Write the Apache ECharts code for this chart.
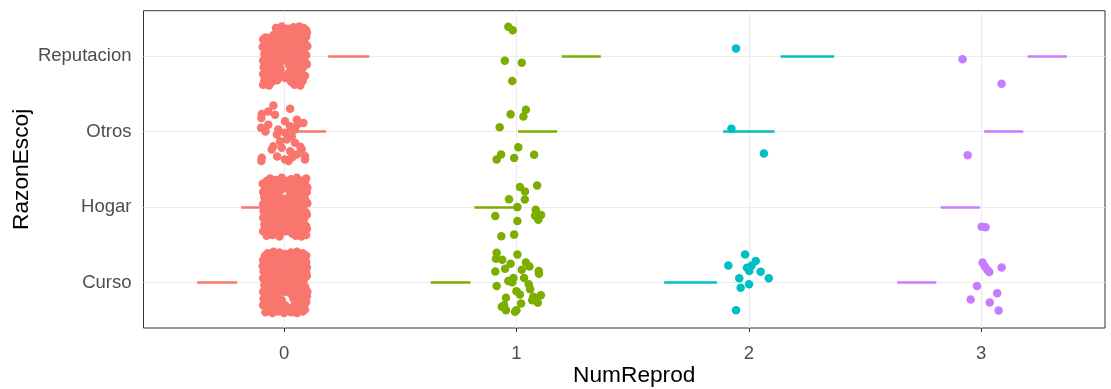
<!DOCTYPE html>
<html>
<head>
<meta charset="utf-8">
<script src="https://cdn.jsdelivr.net/npm/echarts@6/dist/echarts.min.js"></script>
<style>
  html, body { margin: 0; padding: 0; background: #fff; }
  #chart { width: 1111px; height: 389px; }
</style>
</head>
<body>
<div id="chart"></div>
<script>
// categorías del eje Y (1 = Curso ... 4 = Reputacion)
const categories = ['Curso', 'Hogar', 'Otros', 'Reputacion'];
const numReprod = [0, 1, 2, 3];

// puntos con jitter [NumReprod, RazonEscoj]
const pts0 = [
  // Reputacion
  [-0.035,4.37],[-0.01,4.39],[0.015,4.36],[0.04,4.38],[0.065,4.39],[0.085,4.37],
  [-0.022,4.33],[0.002,4.34],[0.028,4.33],[0.052,4.345],[0.075,4.33],[0.095,4.34],
  [-0.045,4.28],[-0.02,4.3],[0.005,4.27],[0.03,4.29],[0.055,4.3],[0.08,4.28],[0.098,4.31],
  [-0.08,4.245],[-0.055,4.25],[-0.03,4.24],[-0.005,4.255],[0.02,4.245],[0.045,4.25],[0.07,4.24],[0.095,4.255],
  [-0.09,4.22],[-0.068,4.19],[-0.04,4.21],[-0.015,4.18],[0.01,4.2],[0.035,4.22],[0.06,4.19],[0.085,4.21],
  [-0.08,4.155],[-0.055,4.165],[-0.03,4.155],[-0.005,4.16],[0.02,4.155],[0.045,4.165],[0.07,4.155],[0.092,4.16],
  [-0.092,4.12],[-0.07,4.1],[-0.045,4.13],[-0.02,4.1],[0.005,4.12],[0.03,4.09],[0.055,4.12],[0.08,4.1],[0.1,4.13],
  [-0.075,4.065],[-0.05,4.07],[-0.025,4.06],[0.0,4.07],[0.03,4.055],[0.058,4.065],[0.085,4.06],
  [-0.085,4.03],[-0.06,4.0],[-0.035,4.04],[-0.01,4.01],[0.02,4.03],[0.045,4.0],[0.07,4.04],[0.095,4.01],
  [-0.075,3.975],[-0.05,3.97],[-0.025,3.98],[0.005,3.97],[0.03,3.975],[0.055,3.965],[0.08,3.975],
  [-0.09,3.94],[-0.065,3.91],[-0.04,3.95],[-0.015,3.92],[0.015,3.94],[0.04,3.91],[0.065,3.95],[0.09,3.92],
  [-0.075,3.885],[-0.05,3.89],[-0.025,3.88],[0.02,3.885],[0.05,3.89],[0.075,3.88],[0.098,3.89],
  [-0.088,3.85],[-0.06,3.82],[-0.035,3.86],[-0.015,3.83],[0.035,3.85],[0.06,3.82],[0.085,3.86],
  [-0.075,3.8],[-0.05,3.795],[-0.025,3.805],[0.025,3.795],[0.05,3.8],[0.075,3.805],
  [-0.09,3.76],[-0.065,3.73],[-0.04,3.77],[-0.01,3.74],[0.015,3.76],[0.04,3.73],[0.065,3.77],[0.09,3.74],
  [-0.075,3.71],[-0.045,3.705],[-0.02,3.715],[0.005,3.71],[0.03,3.705],[0.055,3.71],[0.08,3.72],
  [-0.085,3.67],[-0.055,3.65],[-0.03,3.68],[0.03,3.66],[0.055,3.64],[0.08,3.67],
  [-0.09,3.62],[-0.065,3.61],[0.045,3.62],[0.07,3.61],
  // Otros
  [-0.046,3.346],[0.026,3.303],[-0.096,3.233],[-0.068,3.267],[-0.098,3.18],[-0.039,3.224],
  [0.004,3.136],[0.055,3.158],[0.083,3.114],[-0.099,3.049],[-0.068,3.092],[-0.025,3.026],
  [0.026,3.07],[0.047,3.026],[0.004,2.983],[-0.031,2.961],[0.033,2.938],[-0.017,2.872],
  [0.012,2.895],[-0.046,2.807],[0.047,2.851],[-0.053,2.763],[-0.01,2.785],[0.026,2.741],
  [0.076,2.763],[0.055,2.697],[0.09,2.675],[-0.096,2.654],[-0.098,2.609],[0.004,2.632],
  [0.019,2.609],[0.09,2.632],[0.06,3.1],[-0.08,3.0],[0.07,2.8],[-0.03,2.67],[0.035,2.66],
  // Hogar
  [-0.06,2.38],[-0.035,2.36],[-0.01,2.39],[0.03,2.37],[0.055,2.39],[0.08,2.35],[0.095,2.38],
  [-0.075,2.345],[-0.048,2.35],[-0.022,2.34],[0.01,2.345],[0.042,2.34],[0.068,2.35],[0.09,2.335],
  [-0.092,2.31],[-0.07,2.28],[-0.045,2.32],[-0.02,2.29],[0.01,2.3],[0.035,2.27],[0.06,2.31],[0.085,2.29],[0.1,2.26],
  [-0.08,2.25],[-0.055,2.255],[-0.028,2.25],[0.0,2.26],[0.02,2.25],[0.048,2.255],[0.072,2.245],[0.092,2.25],
  [-0.09,2.2],[-0.065,2.23],[-0.04,2.18],[-0.015,2.22],[0.025,2.21],[0.05,2.19],[0.075,2.23],[0.098,2.2],
  [-0.078,2.165],[-0.05,2.17],[-0.025,2.16],[0.03,2.16],[0.055,2.17],[0.08,2.16],
  [-0.085,2.13],[-0.06,2.1],[-0.035,2.14],[-0.01,2.11],[0.015,2.12],[0.04,2.09],[0.065,2.13],[0.09,2.11],
  [-0.078,2.075],[-0.055,2.08],[-0.03,2.07],[-0.005,2.075],[0.02,2.07],[0.045,2.08],[0.07,2.07],[0.092,2.08],
  [-0.09,2.04],[-0.07,2.01],[-0.045,2.05],[-0.02,2.02],[0.005,2.03],[0.03,2.0],[0.055,2.04],[0.08,2.02],[0.1,2.05],
  [-0.075,1.985],[-0.048,1.99],[-0.02,1.98],[0.008,1.99],[0.032,1.985],[0.058,1.98],[0.082,1.99],
  [-0.088,1.95],[-0.06,1.92],[-0.03,1.96],[-0.005,1.93],[0.02,1.95],[0.045,1.92],[0.07,1.96],[0.095,1.93],
  [-0.078,1.895],[-0.052,1.9],[-0.028,1.89],[0.0,1.9],[0.025,1.895],[0.05,1.9],[0.075,1.89],[0.098,1.9],
  [-0.09,1.86],[-0.065,1.83],[-0.04,1.87],[-0.015,1.84],[0.01,1.86],[0.035,1.83],[0.06,1.87],[0.085,1.84],
  [-0.075,1.805],[-0.05,1.81],[-0.025,1.8],[0.0,1.81],[0.025,1.805],[0.05,1.8],[0.075,1.81],
  [-0.085,1.77],[-0.06,1.74],[-0.035,1.78],[-0.01,1.75],[0.02,1.77],[0.045,1.74],[0.07,1.78],[0.095,1.75],
  [-0.078,1.715],[-0.05,1.72],[-0.025,1.71],[0.0,1.72],[0.025,1.715],[0.05,1.71],[0.075,1.72],[0.098,1.71],
  [-0.09,1.68],[-0.065,1.65],[-0.04,1.69],[-0.015,1.66],[0.01,1.68],[0.035,1.65],[0.06,1.69],[0.085,1.66],
  [-0.075,1.62],[-0.05,1.63],[-0.02,1.61],[0.05,1.62],[0.075,1.61],[0.095,1.63],
  // Curso
  [-0.07,1.39],[-0.045,1.41],[-0.02,1.4],[0.005,1.38],[0.03,1.4],[0.055,1.41],[0.08,1.39],
  [-0.082,1.355],[-0.055,1.36],[-0.03,1.35],[-0.005,1.36],[0.02,1.355],[0.045,1.36],[0.07,1.35],[0.095,1.36],
  [-0.09,1.3],[-0.065,1.33],[-0.04,1.31],[-0.01,1.34],[0.015,1.32],[0.04,1.3],[0.065,1.33],[0.09,1.31],
  [-0.08,1.265],[-0.03,1.275],[0.0,1.27],[0.022,1.265],[0.048,1.275],[0.072,1.265],[0.095,1.27],
  [-0.092,1.22],[-0.07,1.25],[-0.045,1.21],[-0.02,1.24],[0.01,1.22],[0.035,1.25],[0.06,1.21],[0.085,1.24],[0.098,1.2],
  [-0.078,1.185],[-0.05,1.18],[-0.025,1.19],[0.005,1.18],[0.03,1.185],[0.055,1.18],[0.08,1.19],
  [-0.088,1.15],[-0.06,1.12],[-0.035,1.16],[-0.005,1.13],[0.02,1.15],[0.045,1.12],[0.07,1.16],[0.095,1.13],
  [-0.078,1.095],[-0.052,1.1],[-0.028,1.09],[0.0,1.1],[0.022,1.095],[0.048,1.09],[0.072,1.1],[0.098,1.09],
  [-0.09,1.06],[-0.065,1.03],[-0.04,1.07],[-0.015,1.04],[0.01,1.06],[0.035,1.03],[0.06,1.07],[0.085,1.04],
  [-0.075,1.005],[-0.05,1.01],[-0.025,1.0],[0.0,1.01],[0.025,1.005],[0.05,1.0],[0.075,1.01],
  [-0.085,0.97],[-0.06,0.94],[-0.035,0.98],[-0.01,0.95],[0.015,0.97],[0.04,0.94],[0.065,0.98],[0.09,0.95],
  [-0.078,0.915],[-0.055,0.92],[-0.03,0.91],[-0.005,0.92],[0.018,0.915],[0.042,0.92],[0.068,0.91],[0.092,0.92],
  [-0.09,0.88],[-0.07,0.85],[-0.045,0.89],[-0.02,0.86],[0.005,0.88],[0.03,0.85],[0.055,0.89],[0.08,0.86],[0.1,0.88],
  [-0.075,0.825],[-0.048,0.83],[-0.022,0.82],[0.05,0.825],[0.078,0.83],[0.098,0.82],
  [-0.088,0.79],[-0.06,0.76],[-0.035,0.8],[-0.01,0.77],[0.04,0.79],[0.065,0.76],[0.09,0.8],
  [-0.078,0.735],[-0.052,0.74],[-0.028,0.73],[0.048,0.74],[0.072,0.735],[0.095,0.74],
  [-0.09,0.7],[-0.065,0.67],[-0.04,0.71],[-0.015,0.68],[0.005,0.7],[0.035,0.67],[0.06,0.71],[0.085,0.68],
  [-0.068,0.645],[-0.04,0.65],[-0.012,0.64],[0.015,0.65],[0.042,0.645],[0.068,0.65],[0.09,0.645],
  [-0.08,0.61],[-0.05,0.6],[-0.025,0.62],[0.0,0.6],[0.03,0.61],[0.055,0.6],[0.08,0.62]
];

const pts1 = [
  [0.965,4.386],[0.984,4.342],[0.95,3.938],[1.023,3.912],[0.982,3.671],
  [1.041,3.289],[0.975,3.228],[1.03,3.201],[0.928,3.057],[1.008,2.793],
  [0.934,2.697],[0.915,2.632],[0.99,2.649],[1.076,2.693],
  [1.015,2.267],[1.037,2.207],[1.089,2.286],[0.968,2.105],[1.036,2.101],
  [1.004,2.0],[0.909,1.882],[1.083,1.964],[1.08,1.886],[1.106,1.895],
  [1.094,1.833],[1.004,1.816],[0.935,1.614],[0.99,1.636],
  [0.915,1.395],[1.004,1.372],[0.912,1.316],[0.939,1.303],[0.975,1.25],
  [1.041,1.267],[1.056,1.214],[0.951,1.184],[0.909,1.149],[1.023,1.171],
  [1.096,1.154],[1.097,1.118],[0.987,1.062],[1.033,1.062],[0.965,1.022],
  [0.982,1.004],[0.915,0.957],[1.053,0.978],[1.059,0.912],[1.0,0.886],
  [1.015,0.842],[1.073,0.812],[1.105,0.833],[0.955,0.799],[0.947,0.701],
  [0.955,0.636],[1.0,0.636],[1.02,0.724],[1.068,0.767],[1.092,0.733],
  [1.087,0.789],[0.937,0.68],[0.994,0.614]
];

const pts2 = [
  [1.945,4.101],[1.925,3.039],[2.065,2.711],
  [1.984,1.372],[1.912,1.228],[2.03,1.286],[1.992,1.197],[2.012,1.228],
  [2.002,1.154],[2.051,1.145],[2.086,1.057],[1.959,1.057],[2.001,0.978],
  [1.965,0.934],[1.945,0.636]
];

const pts3 = [
  [2.92,3.957],[3.088,3.632],[2.942,2.688],
  [3.002,1.741],[3.019,1.733],[3.006,1.267],[3.016,1.214],[3.035,1.141],
  [3.026,1.171],[3.088,1.201],[2.982,0.957],[3.069,0.859],[2.955,0.776],
  [3.037,0.737],[3.075,0.632]
];

// segmentos horizontales [categoría, desde, hasta]
const seg0 = [[4, 0.19, 0.367], [3, 0.004, 0.181], [2, -0.185, -0.005], [1, -0.374, -0.202]];
const seg1 = [[4, 1.195, 1.363], [3, 1.007, 1.175], [2, 0.819, 0.99], [1, 0.631, 0.802]];
const seg2 = [[4, 2.137, 2.367], [3, 1.889, 2.111], [1, 1.636, 1.863]];
const seg3 = [[4, 3.2, 3.369], [3, 3.013, 3.181], [2, 2.826, 2.995], [1, 2.639, 2.807]];

const colors = ['#F8766D', '#7CAE00', '#00BFC4', '#C77CFF'];
const allPts = [pts0, pts1, pts2, pts3];
const allSegs = [seg0, seg1, seg2, seg3];

const chart = echarts.init(document.getElementById('chart'));

const series = [];
allSegs.forEach((segs, i) => {
  series.push({
    type: 'lines',
    coordinateSystem: 'cartesian2d',
    z: 2,
    silent: true,
    lineStyle: { color: colors[i], width: 2.7, opacity: 1 },
    data: segs.map(s => ({ coords: [[s[1], s[0]], [s[2], s[0]]] }))
  });
});
allPts.forEach((pts, i) => {
  series.push({
    type: 'scatter',
    z: 3,
    symbol: 'circle',
    symbolSize: 8.5,
    itemStyle: { color: colors[i], opacity: 1 },
    data: pts
  });
});

chart.setOption({
  animation: false,
  textStyle: { fontFamily: 'Liberation Sans' },
  grid: {
    left: 143.5, right: 6, top: 10.7, bottom: 61,
    show: true, borderColor: '#333333', borderWidth: 1,
    outerBoundsMode: 'none'
  },
  xAxis: {
    type: 'value',
    min: -0.605, max: 3.533,
    name: 'NumReprod',
    nameLocation: 'middle',
    nameGap: 36,
    nameMoveOverlap: false,
    nameTextStyle: { color: '#000', fontSize: 22.7, padding: [0, 0, 0, 20] },
    axisLine: { show: false },
    axisTick: { show: true, length: 4, customValues: numReprod, lineStyle: { color: '#333333' } },
    axisLabel: { customValues: numReprod, color: '#4D4D4D', fontSize: 18.5, margin: 16 },
    splitLine: { show: true, lineStyle: { color: '#EBEBEB', width: 1.1 } }
  },
  yAxis: {
    type: 'value',
    min: 0.4, max: 4.6,
    name: 'RazonEscoj',
    nameLocation: 'middle',
    nameGap: 110,
    nameMoveOverlap: false,
    nameRotate: 90,
    nameTextStyle: { color: '#000', fontSize: 22.7 },
    axisLine: { show: false },
    axisTick: { show: true, length: 4, customValues: [1, 2, 3, 4], lineStyle: { color: '#333333' } },
    axisLabel: {
      customValues: [1, 2, 3, 4],
      color: '#4D4D4D', fontSize: 18.5, margin: 12,
      formatter: v => categories[Math.round(v) - 1]
    },
    splitLine: { show: true, lineStyle: { color: '#EBEBEB', width: 1.1 } }
  },
  series: series
});
</script>
</body>
</html>
